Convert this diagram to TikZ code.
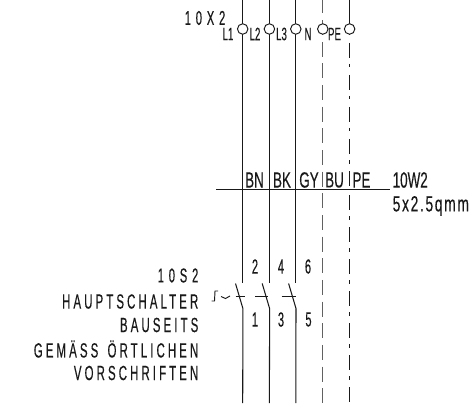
\documentclass[tikz,border=0pt]{standalone}
\usepackage{fontspec}
\setmainfont{Liberation Sans}
\newfontfamily\isoA[FakeStretch=0.54,FakeBold=0.3]{Liberation Sans}
\newfontfamily\isoB[FakeStretch=0.61,FakeBold=0.3]{Liberation Sans}
\newfontfamily\isoC[FakeStretch=0.63,LetterSpace=7.5,FakeBold=0.3]{Liberation Sans}
\newfontfamily\isoD[FakeStretch=0.56,LetterSpace=15,FakeBold=0.3]{Liberation Sans}
\newfontfamily\isoE[FakeStretch=0.56,LetterSpace=24,FakeBold=0.3]{Liberation Sans}
\tikzset{
  x=1pt,y=-1pt,
  wire/.style={line width=1.05pt,black!90},
  thin wire/.style={line width=0.95pt,black!90},
  nwire/.style={line width=1.35pt,black!62,dash pattern=on 15pt off 6.65pt,dash phase=1.5pt},
  pewire/.style={line width=1.05pt,black!90,dash pattern=on 15pt off 6pt on 3.5pt off 7.5pt},
  term/.style={circle,draw=black!90,line width=0.95pt,minimum size=10.5pt,inner sep=0pt,fill=white},
  tlbl/.style={inner sep=0pt,font=\fontsize{18}{19}\isoA,text=black!90},
  clbl/.style={inner sep=0pt,font=\fontsize{22}{23}\isoB,text=black!90},
  nlbl/.style={inner sep=0pt,font=\fontsize{20.5}{21}\isoA,text=black!90},
  spaced/.style={inner sep=0pt,anchor=east,font=\fontsize{20.5}{21}\isoD,text=black!90},
  wider/.style={inner sep=0pt,anchor=east,font=\fontsize{20}{21}\isoE,text=black!90}
}
\begin{document}
\begin{tikzpicture}
\useasboundingbox (0,0) rectangle (473,406);
\coordinate (t1) at (242.7,0); \coordinate (t2) at (269.4,0); \coordinate (t3) at (295.8,0);
\coordinate (t4) at (322.8,0); \coordinate (t5) at (349.6,0);
\coordinate (u1) at (242.7,283); \coordinate (u2) at (269.4,283); \coordinate (u3) at (295.8,283);
\coordinate (l1) at (242.9,308.5); \coordinate (l2) at (269.6,308.5); \coordinate (l3) at (296,308.5);
\coordinate (a1) at (235.5,283.5); \coordinate (a2) at (262.2,283.5); \coordinate (a3) at (288.6,283.5);
\coordinate (e1) at (242.7,403); \coordinate (e2) at (269.4,403); \coordinate (e3) at (295.8,403);
\coordinate (e4) at (322.8,403); \coordinate (e5) at (349.6,403);
\coordinate (x5) at (349.6,189.5);
\draw[wire] (t1)--(u1); \draw[wire] (t2)--(u2); \draw[wire] (t3)--(u3);
\draw[wire] (a1)--(l1)--(e1); \draw[wire] (a2)--(l2)--(e2); \draw[wire] (a3)--(l3)--(e3);
\draw[nwire] (t4)--(e4);
\draw[pewire,dash phase=21pt] (t5)--(x5);
\draw[pewire,dash phase=26.5pt] (x5)--(e5);
% terminals
\node[term] (c1) at (242.7,29) {};
\node[term] (c2) at (269.4,29) {};
\node[term] (c3) at (295.8,29) {};
\node[term] (c4) at (322.8,29) {};
\node[term] (c5) at (349.6,29) {};
\draw[wire] (t5)--(c5);
\node[tlbl] (L1) at (228,34) {L1};
\node[tlbl] (L2) at (255,34) {L2};
\node[tlbl] (L3) at (281.5,34) {L3};
\node[tlbl] (Ln) at (308,34) {N};
\node[tlbl] (Lp) at (334.5,34) {PE};
\node[wider] (tx) at (225.5,18) {10X2};
% cable
\coordinate (h1) at (216,189.5); \coordinate (h2) at (390,189.5);
\draw[wire] (h1)--(h2);
\node[clbl] (bn) at (254.5,180) {BN};
\node[clbl] (bk) at (282,180) {BK};
\node[clbl] (gy) at (309,180) {GY};
\node[clbl] (bu) at (334.5,180) {BU};
\node[clbl] (pe) at (361.5,180) {PE};
\node[clbl,anchor=west] (w1) at (392.5,180) {10W2};
\node[inner sep=0pt,font=\fontsize{22}{23}\isoC,text=black!90,anchor=west] (w2) at (392.5,206) {5x2.5qmm};
% contact numbers
\node[nlbl] (n2) at (255,266.5) {2};
\node[nlbl] (n4) at (281,266.5) {4};
\node[nlbl] (n6) at (308,266.5) {6};
\node[nlbl] (n1) at (255,319.5) {1};
\node[nlbl] (n3) at (281,319.5) {3};
\node[nlbl] (n5) at (308.5,319.5) {5};
% actuator
\coordinate (d1) at (235.7,296.5); \coordinate (d2) at (245,296.5);
\coordinate (d3) at (255,296.5); \coordinate (d4) at (268,296.5);
\coordinate (d5) at (281.7,296.5); \coordinate (d6) at (296,296.5);
\draw[thin wire] (d1)--(d2); \draw[thin wire] (d3)--(d4); \draw[thin wire] (d5)--(d6);
\coordinate (j1) at (211.7,301); \coordinate (j2) at (214.5,301); \coordinate (j3) at (215,291); \coordinate (j4) at (218,291);
\draw[thin wire] (j1)--(j2)--(j3)--(j4);
\coordinate (s1) at (221,296.5); \coordinate (s2) at (230,296);
\draw[thin wire] (s1) -- (225.5,298.5) -- (s2);
% left text
\node[wider] (s10) at (198.5,275.5) {10S2};
\node[spaced] (s11) at (198.5,301.5) {HAUPTSCHALTER};
\node[spaced] (s12) at (198.5,325) {BAUSEITS};
\node[spaced] (s13) at (198.5,349) {GEMÄSS\hspace{3pt} ÖRTLICHEN};
\node[spaced] (s14) at (198.5,373) {VORSCHRIFTEN};
\end{tikzpicture}
\end{document}
